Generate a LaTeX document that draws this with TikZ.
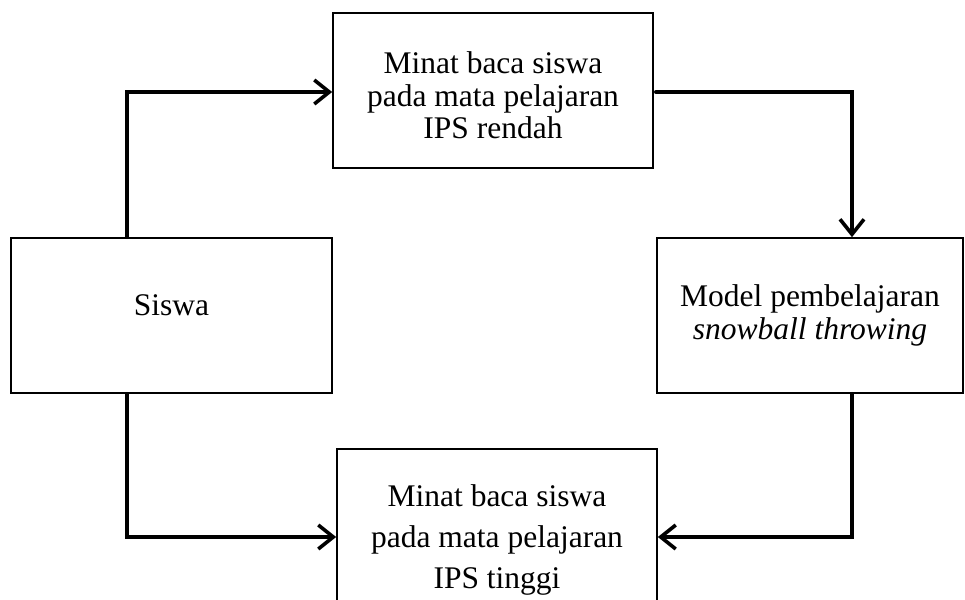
\documentclass[tikz,border=0pt]{standalone}
\usepackage{fontspec}
\setmainfont{Liberation Serif}
\usetikzlibrary{arrows.meta}
\begin{document}
\begin{tikzpicture}[x=1pt,y=-1pt,
  box/.style={draw, line width=1.7pt, rectangle, inner sep=0pt, minimum height=155pt},
  txt/.style={align=center, inner sep=0pt},
  conn/.style={line width=3.8pt, line cap=round, line join=miter,
    -{Straight Barb[length=15pt,width=24pt,line width=3.6pt]}}]
\clip (0,0) rectangle (965,599);
\fill[white] (0,0) rectangle (965,599);
% boxes
\node[box, minimum width=320pt] (top) at (493,90.5) {};
\node[box, minimum width=321pt] (siswa) at (171.5,315.5) {};
\node[box, minimum width=306pt] (model) at (810,315.5) {};
\node[box, minimum width=320pt] (bottom) at (497,526.5) {};
% texts
\node[txt, font=\fontsize{31.5}{32.5}\selectfont] (toptext) at ([yshift=-5pt]top.center)
  {Minat baca siswa\\pada mata pelajaran\\IPS rendah};
\node[txt, font=\fontsize{31.5}{35}\selectfont] (siswatext) at ([yshift=10pt]siswa.center)
  {Siswa};
\node[txt, font=\fontsize{31.5}{33}\selectfont] (modeltext) at (model.center)
  {Model pembelajaran\\\textit{snowball throwing}};
\node[txt, font=\fontsize{31.5}{41}\selectfont] (bottomtext) at ([yshift=-13pt]bottom.center)
  {Minat baca siswa\\pada mata pelajaran\\IPS tinggi};
% connectors
\draw[conn] ([xshift=-44.5pt]siswa.north) |- ([yshift=-1.5pt]top.west);
\draw[conn] ([xshift=2pt,yshift=-1.5pt]top.east) -| ([xshift=42pt]model.north);
\draw[conn] ([xshift=42pt]model.south) |- ([yshift=-10.5pt]bottom.east);
\draw[conn] ([xshift=-44.5pt]siswa.south) |- ([yshift=-10.5pt]bottom.west);
\end{tikzpicture}
\end{document}
